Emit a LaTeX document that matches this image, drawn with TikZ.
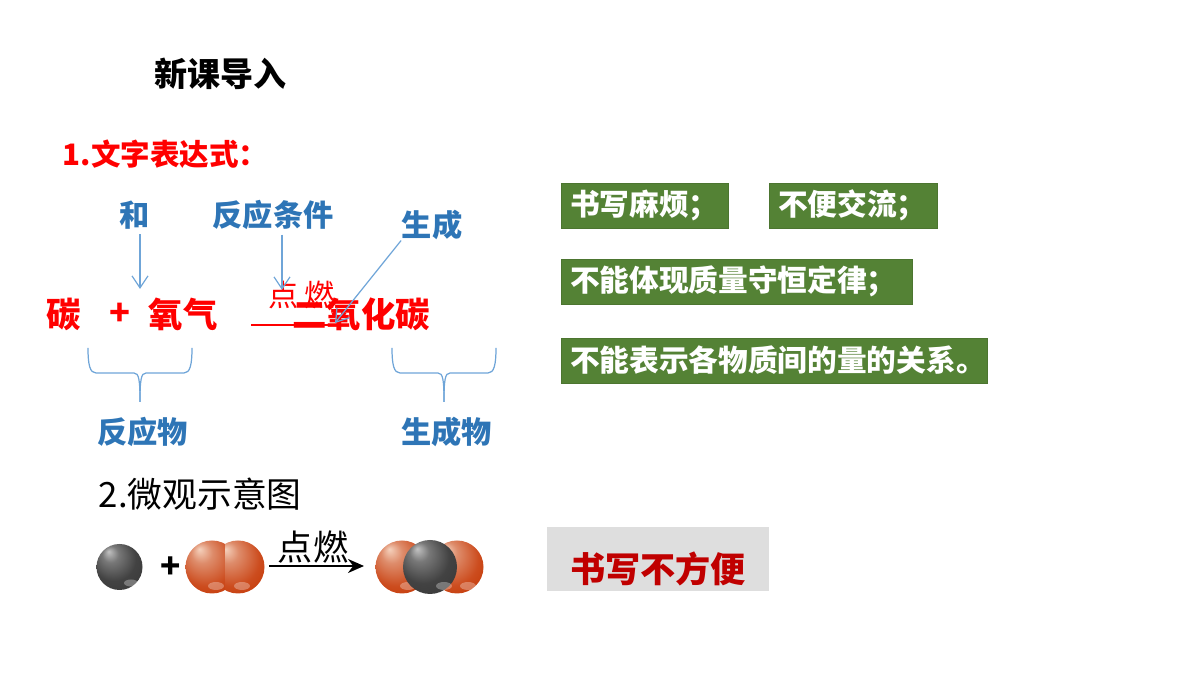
\documentclass[tikz,border=0pt]{standalone}
\usepackage{fontspec}
\setmainfont{Noto Sans CJK SC}
\usetikzlibrary{arrows.meta}
\definecolor{labelblue}{HTML}{2E75B6}
\definecolor{linkblue}{HTML}{6FA5D8}
\definecolor{boxgreen}{HTML}{548235}
\definecolor{boxgrey}{HTML}{DEDEDE}
\definecolor{darkred}{HTML}{C00000}
\pgfdeclareradialshading{carbonball}{\pgfpoint{-12bp}{17bp}}{
	rgb(0bp)=(0.76,0.76,0.76); rgb(9bp)=(0.47,0.47,0.47); rgb(24bp)=(0.26,0.26,0.26); rgb(50bp)=(0.19,0.19,0.19)}
\pgfdeclareradialshading{oxygenball}{\pgfpoint{-12bp}{17bp}}{
	rgb(0bp)=(0.96,0.82,0.74); rgb(10bp)=(0.87,0.55,0.42); rgb(26bp)=(0.80,0.30,0.12); rgb(38bp)=(0.77,0.22,0.02); rgb(50bp)=(0.77,0.22,0.02)}
\newcommand\notefill[2]{\makebox[#1][l]{\hspace{0.09cm}#2}}
\tikzset{
	title/.style={font=\fontsize{9.4pt}{11pt}\selectfont\bfseries, inner sep=0pt},
	redhead/.style={font=\fontsize{8.4pt}{10pt}\selectfont\bfseries, text=red, inner sep=0pt},
	bluelabel/.style={font=\fontsize{8.6pt}{10pt}\selectfont\bfseries, text=labelblue, inner sep=0pt},
	redterm/.style={font=\fontsize{9.8pt}{11pt}\selectfont\bfseries, text=red, inner sep=0pt},
	plaintext/.style={font=\fontsize{10pt}{12pt}\selectfont, inner sep=0pt},
	notebox/.style={fill=boxgreen, draw=boxgreen!90!black, line width=0.2pt, text=white, inner sep=0pt,
		minimum height=0.45cm, font=\fontsize{8.45pt}{10pt}\selectfont\bfseries},
	link/.style={draw=linkblue, line width=0.35pt, -{Straight Barb[length=1.2mm,width=1.6mm]}},
	curly/.style={draw=linkblue, line width=0.35pt},
	carbon/.style={circle, minimum size=#1, inner sep=0pt, shading=carbonball},
	oxygen/.style={circle, minimum size=#1, inner sep=0pt, shading=oxygenball},
	glint/.style={fill=white, opacity=0.3},
}
\begin{document}
\begin{tikzpicture}
	\useasboundingbox (0,0) rectangle (12,6.75);
	\newcommand\rc{0.46cm}
	\newcommand\ro{0.53cm}

	\node[title] (head) at (2.205,6.01) {新课导入};
	\node[redhead, anchor=west] (sec1) at (0.62,5.21) {1.文字表达式：};

	% word equation
	\node[redterm] (c1) at (0.64,3.61) {碳};
	\node[redterm] (plus1) at (1.20,3.61) {+};
	\node[redterm] (o2) at (1.83,3.61) {氧气};
	\node[redterm] (co2) at (3.61,3.61) {二氧化碳};
	\node[font=\fontsize{8.6pt}{10pt}\selectfont, text=red, inner sep=0pt] (fire1) at (2.84,3.80) {点};
	\node[font=\fontsize{8.6pt}{10pt}\selectfont, text=red, inner sep=0pt] (fire2) at (3.20,3.80) {燃};
	\coordinate (eqa) at (2.51,3.50);
	\coordinate (eqb) at (3.42,3.50);
	\draw[red, line width=0.6pt] (eqa) -- (eqb);

	\node[bluelabel] (he) at (1.35,4.60) {和};
	\node[bluelabel] (cond) at (2.73,4.60) {反应条件};
	\node[bluelabel] (make) at (4.32,4.50) {生成};
	\coordinate (hetip) at (1.40,3.86);
	\coordinate (condtip) at (2.82,3.85);
	\coordinate (maketip) at (3.35,3.52);
	\draw[link, shorten <=1.2pt] (he.south -| hetip) -- (hetip);
	\draw[link, shorten <=1.2pt] (cond.south -| condtip) -- (condtip);
	\draw[link] (make.south west) -- (maketip);

	% braces under the terms
	\foreach \bx/\bname in {1.40/left,4.44/right} {
		\coordinate (tip\bname) at (\bx,2.73);
		\draw[curly] (\bx-0.52,3.27) .. controls (\bx-0.52,3.10) and (\bx-0.50,3.02) .. (\bx-0.44,3.02)
			-- (\bx-0.06,3.02) .. controls (\bx-0.01,3.02) and (\bx,2.95) .. (tip\bname);
		\draw[curly] (\bx+0.52,3.27) .. controls (\bx+0.52,3.10) and (\bx+0.50,3.02) .. (\bx+0.44,3.02)
			-- (\bx+0.06,3.02) .. controls (\bx+0.01,3.02) and (\bx,2.95) .. (tip\bname);
	}
	\node[bluelabel] (reactant) at (1.425,2.43) {反应物};
	\node[bluelabel] (product) at (4.465,2.43) {生成物};

	% notes
	\node[notebox] (note1) at (6.445,4.695) {\notefill{1.67cm}{书写麻烦；}};
	\node[notebox] (note2) at (8.53,4.695) {\notefill{1.68cm}{不便交流；}};
	\node[notebox] (note3) at (7.365,3.935) {\notefill{3.51cm}{不能体现质量守恒定律；}};
	\node[notebox] (note4) at (7.74,3.145) {\notefill{4.26cm}{不能表示各物质间的量的关系。}};

	% micro picture
	\node[plaintext, font=\fontsize{9.9pt}{12pt}\selectfont, anchor=west] (sec2) at (0.98,1.81) {2.微观示意图};
	\node[carbon=\rc] (atomc) at (1.195,1.08) {};
	\fill[glint] (1.31,0.92) ellipse (0.07 and 0.035);
	\node[font=\fontsize{9.5pt}{11pt}\selectfont\bfseries, inner sep=0pt] (plus2) at (1.71,1.07) {+};
	\node[oxygen=\ro] (oa) at (2.12,1.08) {};
	\fill[glint] (2.16,0.89) ellipse (0.08 and 0.04);
	\begin{scope}
		\clip (2.25,0) rectangle (3,2);
		\node[oxygen=\ro] (ob) at (2.38,1.08) {};
		\fill[glint] (2.42,0.89) ellipse (0.08 and 0.04);
	\end{scope}
	\node[plaintext] (fire3) at (3.13,1.28) {点燃};
	\coordinate (reacta) at (2.69,1.09);
	\coordinate (reactb) at (3.64,1.09);
	\draw[line width=0.6pt, -{Stealth[length=1.6mm,width=1.4mm]}] (reacta) -- (reactb);
	\node[oxygen=\ro] (oc) at (4.02,1.08) {};
	\fill[glint] (4.08,0.89) ellipse (0.08 and 0.04);
	\node[oxygen=\ro] (od) at (4.57,1.08) {};
	\fill[glint] (4.68,0.89) ellipse (0.08 and 0.04);
	\node[carbon=0.54cm] (ce) at (4.30,1.08) {};
	\fill[glint] (4.44,0.89) ellipse (0.08 and 0.04);

	\node[fill=boxgrey, minimum width=2.22cm, minimum height=0.64cm, text=darkred, inner sep=0pt,
		font=\fontsize{10pt}{12pt}\selectfont\bfseries] (hard) at (6.58,1.16) {\raisebox{-2.4mm}[0pt][0pt]{书写不方便}};
\end{tikzpicture}
\end{document}
